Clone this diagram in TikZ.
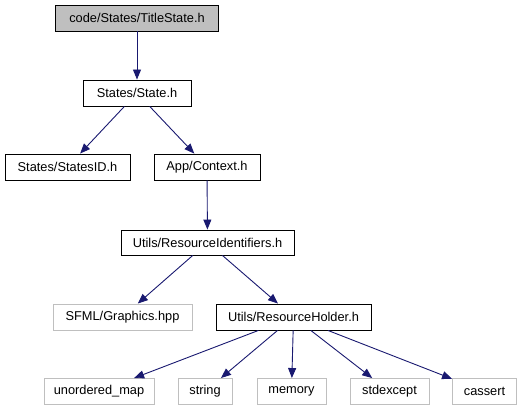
\documentclass[tikz,border=0pt]{standalone}
\usepackage{fontspec}
\setmainfont{Liberation Sans}
\usetikzlibrary{arrows.meta}
\definecolor{edgeblue}{HTML}{191970}
\definecolor{grayfill}{HTML}{BFBFBF}
\definecolor{grayline}{HTML}{BFBFBF}
\begin{document}
\begin{tikzpicture}[x=1pt,y=-1pt,
  box/.style={draw=black,fill=white,line width=0.9pt,inner sep=0pt,minimum height=26pt,font=\fontsize{12.8}{15}\selectfont},
  rootbox/.style={box,fill=grayfill},
  extbox/.style={box,draw=grayline},
  edge/.style={draw=edgeblue,line width=0.9pt,-{Triangle[length=10pt,width=8pt]}}]
\useasboundingbox (0,0) rectangle (526,411);
\node[rootbox,minimum width=163pt] (title) at (137,18) {code/States/TitleState.h};
\node[box,minimum width=108pt] (state) at (137,93) {States/State.h};
\node[box,minimum width=125pt] (sid) at (67.5,167) {States/StatesID.h};
\node[box,minimum width=106pt] (ctx) at (207,167) {App/Context.h};
\node[box,minimum width=173pt,minimum height=25pt] (rid) at (207.5,242.5) {Utils/ResourceIdentifiers.h};
\node[extbox,minimum width=139pt] (sfml) at (122.5,317) {SFML/Graphics.hpp};
\node[box,minimum width=155pt] (rh) at (293.5,317) {Utils/ResourceHolder.h};
\node[extbox,minimum width=110pt] (um) at (99,391.5) {unordered\_map};
\node[extbox,minimum width=54pt] (str) at (205,391.5) {string};
\node[extbox,minimum width=69pt] (mem) at (291.5,391.5) {memory};
\node[extbox,minimum width=79pt] (sexc) at (389.5,391.5) {stdexcept};
\node[extbox,minimum width=64pt] (cas) at (484.5,391.5) {cassert};
\draw[edge] (title) -- (state);
\draw[edge] (state) -- (sid);
\draw[edge] (state) -- (ctx);
\draw[edge] (ctx) -- (rid);
\draw[edge] (rid) -- (sfml);
\draw[edge] (rid) -- (rh);
\draw[edge] (rh) -- (um);
\draw[edge] (rh) -- (str);
\draw[edge] (rh) -- (mem);
\draw[edge] (rh) -- (sexc);
\draw[edge] (rh) -- (cas);
\end{tikzpicture}
\end{document}
